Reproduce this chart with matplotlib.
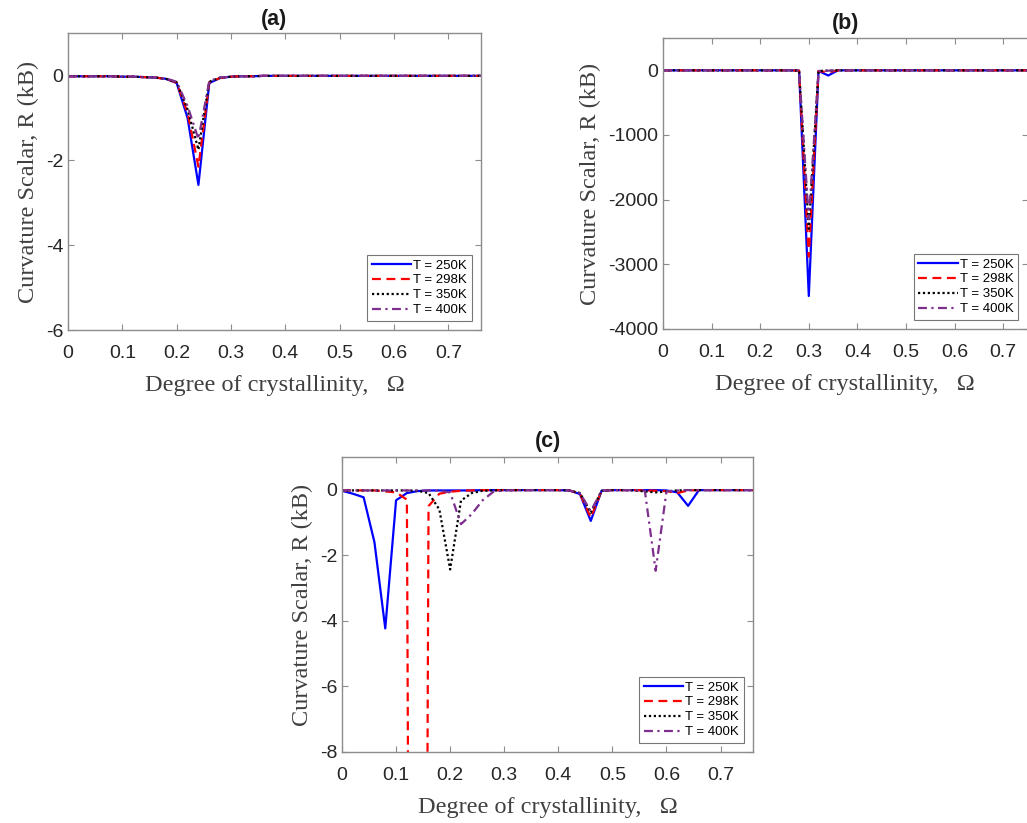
import matplotlib
matplotlib.use("Agg")
import matplotlib.pyplot as plt

# ---------------- data ----------------
omega = [0.00, 0.02, 0.04, 0.06, 0.08, 0.10, 0.12, 0.14, 0.16, 0.18,
         0.20, 0.22, 0.24, 0.26, 0.28, 0.30, 0.32, 0.34, 0.36, 0.38,
         0.40, 0.42, 0.44, 0.46, 0.48, 0.50, 0.52, 0.54, 0.56, 0.58,
         0.60, 0.62, 0.64, 0.66, 0.68, 0.70, 0.72, 0.74, 0.76]

labels = ["T = 250K", "T = 298K", "T = 350K", "T = 400K"]

# panel (a)  [kB]
a_250 = [-0.02, -0.02, -0.02, -0.02, -0.02, -0.03, -0.03, -0.04, -0.05, -0.08,
         -0.18, -1.00, -2.58, -0.18, -0.06, -0.03, -0.02, -0.02, -0.01, -0.01,
         -0.01, -0.01, -0.01, -0.01, -0.01, -0.01, -0.01, -0.01, -0.01, -0.01,
         -0.01, -0.01, -0.01, -0.01, -0.01, -0.01, -0.01, -0.01, -0.01]
a_298 = [-0.02, -0.02, -0.02, -0.02, -0.02, -0.03, -0.03, -0.04, -0.05, -0.08,
         -0.17, -0.88, -2.15, -0.16, -0.06, -0.03, -0.02, -0.02, -0.01, -0.01,
         -0.01, -0.01, -0.01, -0.01, -0.01, -0.01, -0.01, -0.01, -0.01, -0.01,
         -0.01, -0.01, -0.01, -0.01, -0.01, -0.01, -0.01, -0.01, -0.01]
a_350 = [-0.02, -0.02, -0.02, -0.02, -0.02, -0.03, -0.03, -0.04, -0.05, -0.08,
         -0.16, -0.80, -1.75, -0.15, -0.05, -0.03, -0.02, -0.02, -0.01, -0.01,
         -0.01, -0.01, -0.01, -0.01, -0.01, -0.01, -0.01, -0.01, -0.01, -0.01,
         -0.01, -0.01, -0.01, -0.01, -0.01, -0.01, -0.01, -0.01, -0.01]
a_400 = [-0.02, -0.02, -0.02, -0.02, -0.02, -0.03, -0.03, -0.04, -0.05, -0.07,
         -0.15, -0.72, -1.50, -0.13, -0.05, -0.03, -0.02, -0.02, -0.01, -0.01,
         -0.01, -0.01, -0.01, -0.01, -0.01, -0.01, -0.01, -0.01, -0.01, -0.01,
         -0.01, -0.01, -0.01, -0.01, -0.01, -0.01, -0.01, -0.01, -0.01]

# panel (b)  [kB]
b_250 = [0, 0, 0, 0, 0, 0, 0, 0, 0, 0,
         0, 0, 0, 0, -5, -3490, -10, -80, 0, 0,
         0, 0, 0, 0, 0, 0, 0, 0, 0, 0,
         0, 0, 0, 0, 0, 0, 0, 0, 0]
b_298 = [0, 0, 0, 0, 0, 0, 0, 0, 0, 0,
         0, 0, 0, 0, -5, -2880, -10, -30, 0, 0,
         0, 0, 0, 0, 0, 0, 0, 0, 0, 0,
         0, 0, 0, 0, 0, 0, 0, 0, 0]
b_350 = [0, 0, 0, 0, 0, 0, 0, 0, 0, 0,
         0, 0, 0, 0, -5, -2450, -10, -5, 0, 0,
         0, 0, 0, 0, 0, 0, 0, 0, 0, 0,
         0, 0, 0, 0, 0, 0, 0, 0, 0]
b_400 = [0, 0, 0, 0, 0, 0, 0, 0, 0, 0,
         0, 0, 0, 0, -5, -2300, -10, -5, 0, 0,
         0, 0, 0, 0, 0, 0, 0, 0, 0, 0,
         0, 0, 0, 0, 0, 0, 0, 0, 0]

# panel (c)  [kB]
c_250 = [-0.03, -0.12, -0.23, -1.60, -4.23, -0.32, -0.10, -0.04, -0.02, -0.02,
         -0.02, -0.02, -0.02, -0.01, -0.01, -0.01, -0.01, -0.01, -0.01, -0.01,
         -0.01, -0.02, -0.13, -0.95, -0.03, -0.01, -0.01, -0.01, -0.01, -0.01,
         -0.02, -0.08, -0.49, -0.01, -0.01, -0.01, -0.01, -0.01, -0.01]
c_298 = [-0.02, -0.02, -0.02, -0.02, -0.05, -0.08, -0.30, -80.0, -0.50, -0.12,
         -0.06, -0.03, -0.02, -0.01, -0.01, -0.01, -0.01, -0.01, -0.01, -0.01,
         -0.01, -0.02, -0.12, -0.85, -0.03, -0.01, -0.01, -0.01, -0.02, -0.03,
         -0.04, -0.10, -0.02, -0.01, -0.01, -0.01, -0.01, -0.01, -0.01]
c_350 = [-0.02, -0.02, -0.02, -0.02, -0.02, -0.02, -0.02, -0.03, -0.10, -0.60,
         -2.43, -0.33, -0.10, -0.03, -0.02, -0.01, -0.01, -0.01, -0.01, -0.01,
         -0.01, -0.02, -0.10, -0.70, -0.03, -0.01, -0.01, -0.02, -0.05, -0.08,
         -0.05, -0.02, -0.01, -0.01, -0.01, -0.01, -0.01, -0.01, -0.01]
c_400 = [-0.02, -0.02, -0.02, -0.02, -0.02, -0.02, -0.02, -0.02, -0.02, -0.03,
         -0.08, -1.05, -0.74, -0.32, -0.06, -0.02, -0.01, -0.01, -0.01, -0.01,
         -0.01, -0.02, -0.10, -0.65, -0.03, -0.01, -0.01, -0.01, -0.03, -2.47,
         -0.05, -0.02, -0.01, -0.01, -0.01, -0.01, -0.01, -0.01, -0.01]

panels = [
    dict(title="(a)", series=[a_250, a_298, a_350, a_400],
         rect=[68, 33, 481, 330], xlim=(0, 0.76), ylim=(-6, 1),
         yticks=[-6, -4, -2, 0], tpad=6.0),
    dict(title="(b)", series=[b_250, b_298, b_350, b_400],
         rect=[663, 38, 1027.5, 329], xlim=(0, 0.75), ylim=(-4000, 500),
         yticks=[-4000, -3000, -2000, -1000, 0], tpad=6.5),
    dict(title="(c)", series=[c_250, c_298, c_350, c_400],
         rect=[342, 457, 753, 752], xlim=(0, 0.76), ylim=(-8, 1),
         yticks=[-8, -6, -4, -2, 0], tpad=7.0),
]
xticks = [0, 0.1, 0.2, 0.3, 0.4, 0.5, 0.6, 0.7]
xticklabels = ["0", "0.1", "0.2", "0.3", "0.4", "0.5", "0.6", "0.7"]

colors = ["#0000ff", "#ff0000", "#000000", "#7e2f8e"]
styles = ["-", (0, (4, 2.5)), (0, (1, 1.2)), (0, (4, 2, 1, 2))]

# ---------------- drawing ----------------
W, H = 1027, 823
fig = plt.figure(figsize=(W / 100, H / 100), dpi=100)
sans = ["Liberation Sans", "DejaVu Sans"]
serif = ["Liberation Serif", "DejaVu Serif"]
spine_col = "#8c8c8c"
tick_col = "#262626"

for p in panels:
    l, t, r, b = p["rect"]
    ax = fig.add_axes([l / W, (H - b) / H, (r - l) / W, (b - t) / H])
    for ys, c, ls, lab in zip(p["series"], colors, styles, labels):
        ax.plot(omega, ys, color=c, linestyle=ls, linewidth=1.6, label=lab)
    ax.set_xlim(*p["xlim"])
    ax.set_ylim(*p["ylim"])
    ax.set_xticks(xticks)
    ax.set_xticklabels(xticklabels)
    ax.set_yticks(p["yticks"])
    ax.set_yticklabels([str(v) for v in p["yticks"]])
    for s in ax.spines.values():
        s.set_color(spine_col)
        s.set_linewidth(1.0)
    ax.tick_params(direction="in", top=True, right=True, length=4,
                   width=0.8, color=spine_col, labelcolor=tick_col,
                   labelsize=14)
    ax.tick_params(axis="x", pad=11)
    ax.tick_params(axis="y", pad=3.5)
    for lb in ax.get_xticklabels() + ax.get_yticklabels():
        lb.set_family(sans)
    ax.set_title(p["title"], fontsize=15.5, fontweight="bold",
                 family=sans, color="#1a1a1a", pad=p["tpad"])
    ax.set_xlabel("Degree of crystallinity,   \u03a9", fontsize=17.5,
                  family=serif, color="#404040", labelpad=9)
    ax.set_ylabel("Curvature Scalar, R (kB)", fontsize=17.5,
                  family=serif, color="#404040", labelpad=5)
    leg = ax.legend(loc="lower right", prop={"family": sans, "size": 9.5},
                    frameon=True, fancybox=False, edgecolor="#555555",
                    borderaxespad=0.7, handlelength=3.0, labelspacing=0.2,
                    handletextpad=0.15, borderpad=0.35)
    leg.get_frame().set_linewidth(0.8)

fig.savefig("out.png", dpi=100)
